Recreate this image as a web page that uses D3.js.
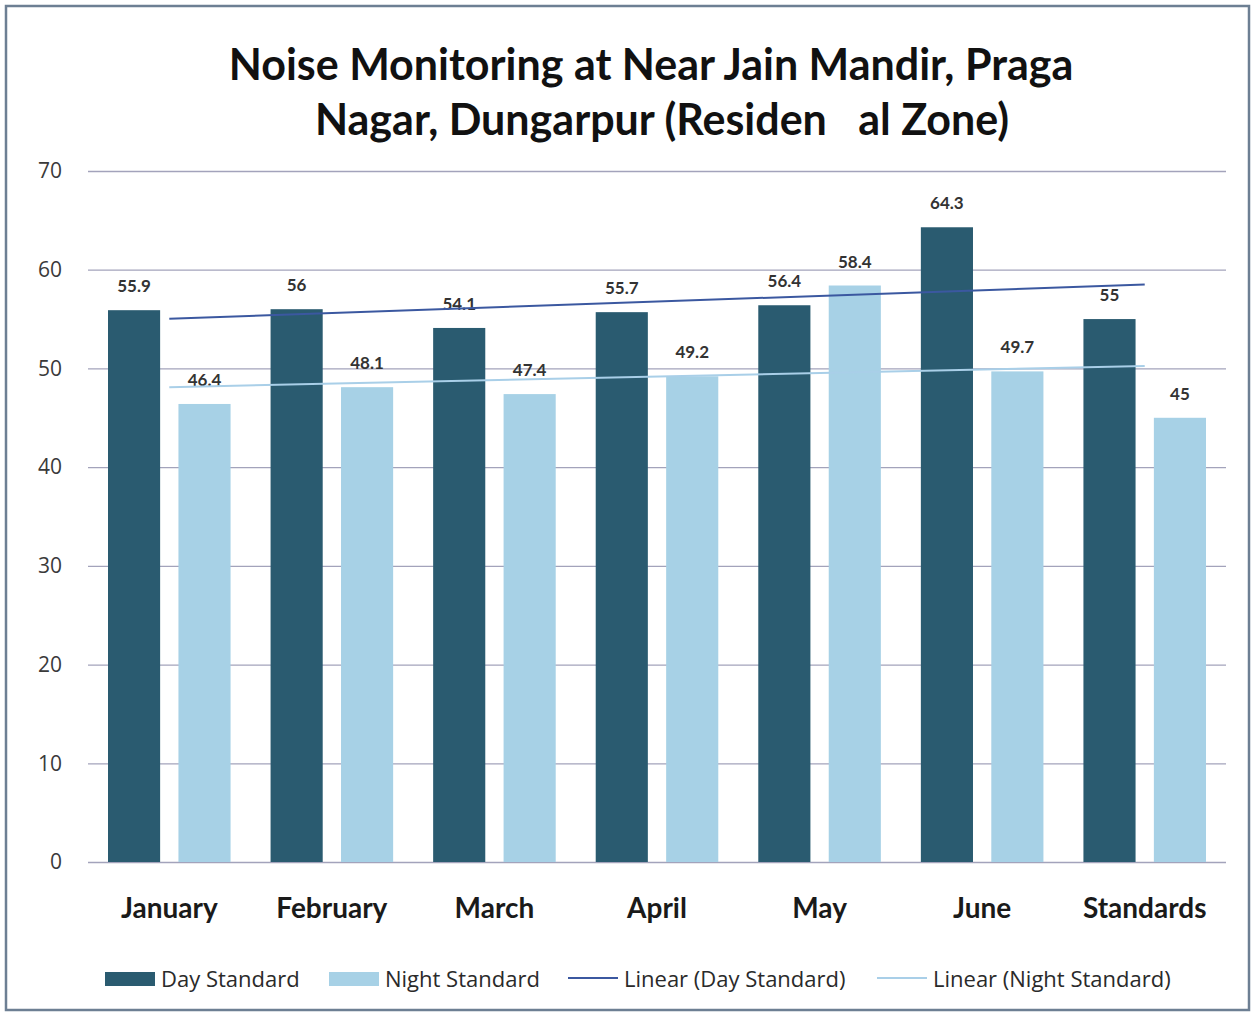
<!DOCTYPE html>
<html>
<head>
<meta charset="utf-8">
<script src="https://cdn.jsdelivr.net/npm/d3@7"></script>
<style>
  body { margin: 0; background: #fff; }
  svg { display: block; }
</style>
</head>
<body>
<svg id="chart" width="1256" height="1016"></svg>
<script>
// chart data
let months = ['January', 'February', 'March', 'April', 'May', 'June', 'Standards']
let dayValues = [55.9, 56, 54.1, 55.7, 56.4, 64.3, 55]
let nightValues = [46.4, 48.1, 47.4, 49.2, 58.4, 49.7, 45]
let yTicks = [0, 10, 20, 30, 40, 50, 60, 70]
let seriesNames = ['Day Standard', 'Night Standard']
let titleLines = ['Noise Monitoring at Near Jain Mandir, Praga', 'Nagar, Dungarpur (Residen   al Zone)']

let dayColor = '#2a5b70'
let nightColor = '#a7d1e6'
let dayTrendColor = '#3b58a0'
let nightTrendColor = '#a9cfe8'

let svg = d3.select('#chart')
let width = 1256
let plotLeft = 88, plotRight = 1226, plotTop = 171, plotBottom = 862

// frame
svg.append('rect')
    .attr('x', 6).attr('y', 6)
    .attr('width', width - 13).attr('height', 1004)
    .attr('fill', 'none')
    .attr('stroke', '#6d7f93')
    .attr('stroke-width', 2.5)

// title
svg.selectAll('.title')
    .data(titleLines)
    .enter()
    .append('text')
    .attr('class', 'title')
    .attr('x', (d, i) => i === 0 ? 651 : 662)
    .attr('y', (d, i) => 80 + i * 55)
    .attr('text-anchor', 'middle')
    .attr('font-family', 'Lato, "Open Sans", sans-serif')
    .attr('font-weight', 'bold')
    .attr('font-size', 43)
    .attr('fill', '#111')
    .style('white-space', 'pre')
    .text(d => d)

let x = d3.scaleBand()
    .domain(months)
    .range([plotLeft, plotRight])
    .paddingInner(0)
    .paddingOuter(0)

let sub = d3.scaleBand()
    .domain(seriesNames)
    .range([20, x.bandwidth() - 20])
    .paddingInner(0.26)

let y = d3.scaleLinear()
    .domain([0, 70])
    .range([plotBottom, plotTop])

// gridlines
let yAxis = d3.axisLeft(y)
    .tickValues(yTicks)
    .tickSize(-(plotRight - plotLeft))
    .tickPadding(26)

let yg = svg.append('g')
    .attr('transform', `translate(${plotLeft},0)`)
    .call(yAxis)
yg.select('.domain').remove()
yg.selectAll('.tick line')
    .attr('stroke', '#a3a3bb')
    .attr('stroke-width', 1.3)
yg.selectAll('.tick text')
    .attr('font-family', '"Open Sans", sans-serif')
    .attr('font-size', 21)
    .attr('fill', '#3a3a3a')

// bars
let rows = months.map((m, i) => ({ month: m, values: [dayValues[i], nightValues[i]] }))

let groups = svg.selectAll('.group')
    .data(rows)
    .enter()
    .append('g')
    .attr('class', 'group')
    .attr('transform', d => `translate(${x(d.month)},0)`)

groups.selectAll('rect')
    .data(d => d.values.map((v, j) => ({ name: seriesNames[j], value: v })))
    .enter()
    .append('rect')
    .attr('x', d => sub(d.name))
    .attr('width', sub.bandwidth())
    .attr('y', d => y(d.value))
    .attr('height', d => y(0) - y(d.value))
    .attr('fill', (d, j) => j === 0 ? dayColor : nightColor)

groups.selectAll('.lbl')
    .data(d => d.values.map((v, j) => ({ name: seriesNames[j], value: v })))
    .enter()
    .append('text')
    .attr('class', 'lbl')
    .attr('x', d => sub(d.name) + sub.bandwidth() / 2)
    .attr('y', d => y(d.value) - 18)
    .attr('text-anchor', 'middle')
    .attr('font-family', 'Lato, "Open Sans", sans-serif')
    .attr('font-weight', 'bold')
    .attr('font-size', 17)
    .attr('fill', '#333')
    .text(d => d.value)

// linear trendlines (least squares over category index)
let trend = (vals) => {
    let n = vals.length
    let xs = vals.map((v, i) => i + 1)
    let mx = d3.mean(xs), my = d3.mean(vals)
    let num = d3.sum(xs, (xi, i) => (xi - mx) * (vals[i] - my))
    let den = d3.sum(xs, xi => (xi - mx) * (xi - mx))
    let b = num / den, a = my - b * mx
    return [1, n].map(xi => ({ idx: xi - 1, value: a + b * xi }))
}

let line = d3.line()
    .x(d => x(months[d.idx]) + x.bandwidth() / 2)
    .y(d => y(d.value))

svg.append('path')
    .attr('d', line(trend(nightValues)))
    .attr('stroke', nightTrendColor)
    .attr('stroke-width', 2)
    .attr('fill', 'none')

svg.append('path')
    .attr('d', line(trend(dayValues)))
    .attr('stroke', dayTrendColor)
    .attr('stroke-width', 2)
    .attr('fill', 'none')

// x labels
svg.selectAll('.xlbl')
    .data(months)
    .enter()
    .append('text')
    .attr('class', 'xlbl')
    .attr('x', d => x(d) + x.bandwidth() / 2)
    .attr('y', 918)
    .attr('text-anchor', 'middle')
    .attr('font-family', 'Lato, "Open Sans", sans-serif')
    .attr('font-weight', 'bold')
    .attr('font-size', 28)
    .attr('fill', '#1a1a1a')
    .text(d => d)

// legend
let legendItems = [
    { label: 'Day Standard', type: 'rect', color: dayColor, x: 105 },
    { label: 'Night Standard', type: 'rect', color: nightColor, x: 329 },
    { label: 'Linear (Day Standard)', type: 'line', color: dayTrendColor, x: 568 },
    { label: 'Linear (Night Standard)', type: 'line', color: nightTrendColor, x: 877 }
]

let lg = svg.selectAll('.legend')
    .data(legendItems)
    .enter()
    .append('g')
    .attr('class', 'legend')
    .attr('transform', d => `translate(${d.x},978)`)

lg.filter(d => d.type === 'rect')
    .append('rect')
    .attr('x', 0).attr('y', -6)
    .attr('width', 50).attr('height', 14)
    .attr('fill', d => d.color)

lg.filter(d => d.type === 'line')
    .append('line')
    .attr('x1', 0).attr('x2', 50)
    .attr('y1', 0).attr('y2', 0)
    .attr('stroke', d => d.color)
    .attr('stroke-width', 2)

lg.append('text')
    .attr('x', 56)
    .attr('y', 9)
    .attr('font-family', '"Open Sans", sans-serif')
    .attr('font-size', 22)
    .attr('fill', '#2a2a2a')
    .text(d => d.label)
</script>
</body>
</html>
